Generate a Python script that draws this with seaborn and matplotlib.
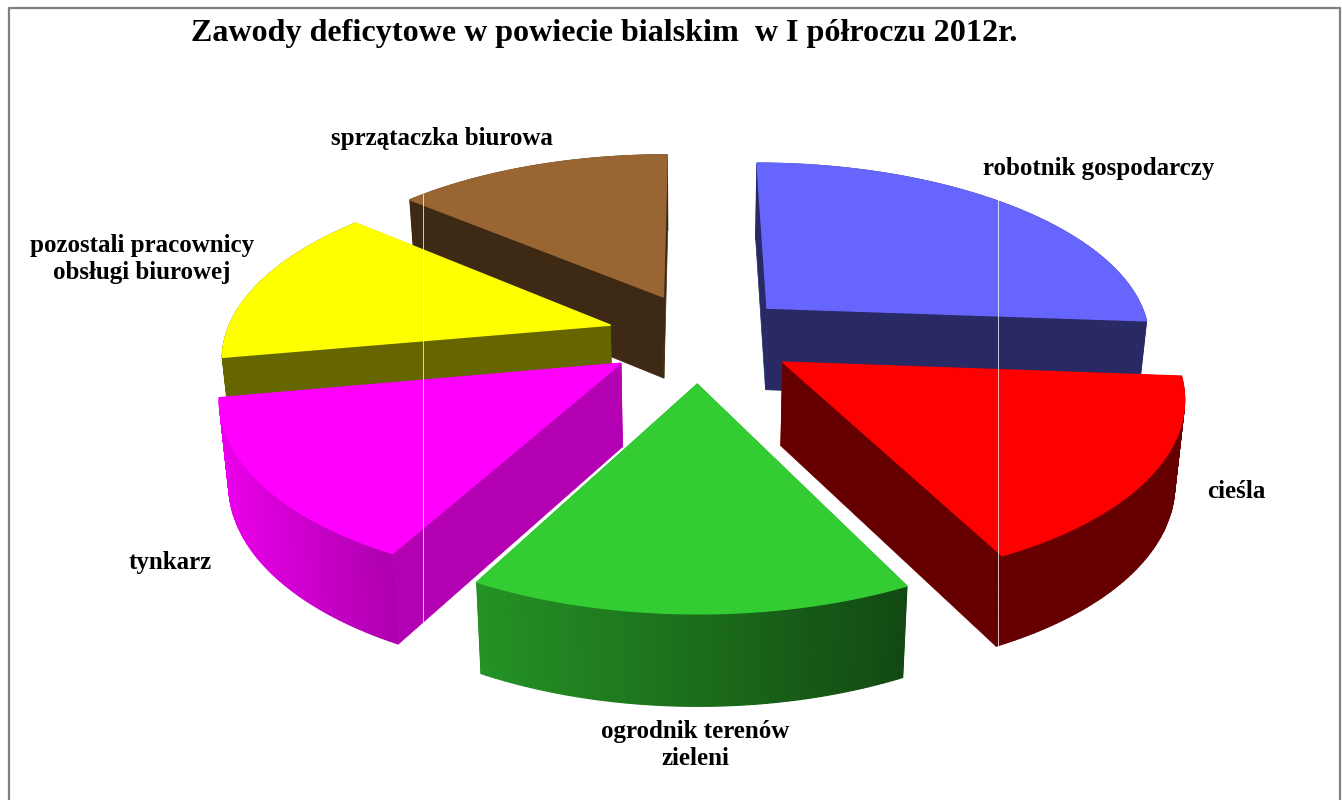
import numpy as np
import matplotlib
matplotlib.use("Agg")
import matplotlib.pyplot as plt
from matplotlib.colors import to_rgb
import seaborn as sns

title = "Zawody deficytowe w powiecie bialskim  w I półroczu 2012r."
categories = ["robotnik gospodarczy", "cieśla", "ogrodnik terenów\nzieleni", "tynkarz",
              "pozostali pracownicy\nobsługi biurowej", "sprzątaczka biurowa"]
values = [26.2, 16.5, 15.1, 14.3, 14.2, 13.7]
colors = ["#6666FF", "#FF0000", "#33CC33", "#FF00FF", "#FFFF00", "#996633"]

# label centres in pixels
label_pos = [(1099, 169), (1236, 491), (695, 745), (170, 563), (142, 259), (442, 139)]
# wall shading: outer wall left/right, radial wall
wall_left = [0.4, 0.4, 0.72, 0.92, 0.4, 0.4]
wall_right = [0.4, 0.4, 0.36, 0.68, 0.4, 0.4]
wall_radial = [0.4, 0.4, 0.4, 0.7, 0.4, 0.4]
draw_order = [5, 4, 0, 3, 1, 2]

# how far each slice is pulled out of the pie
explode_x = [0.2, 0.23, 0.013, -0.18, -0.214, -0.077]
explode_y = [0.213, -0.094, -0.211, -0.1, 0.113, 0.28]

# projection settings
cx, cy = 692, 345
a, b, k = 388, 179, 0.16
depth = 83
shrink = 0.02


def project(x, y, z=0.0):
    w = 1 + k * y
    return cx + a * x * (1 - shrink * z) / w, cy - b * y / w + depth * z / np.sqrt(w)


def shade(color, f):
    return tuple(c * f for c in to_rgb(color))


sns.set_theme(style="white")
plt.rcParams["font.family"] = ["Liberation Serif", "DejaVu Serif"]
palette = sns.color_palette(colors)

fig, ax = plt.subplots(figsize=(13.42, 8), dpi=100)
ax.set_position([0, 0, 1, 1])
ax.set_xlim(0, 1342)
ax.set_ylim(800, 0)
ax.axis("off")

# chart frame, open at the bottom
ax.plot([9, 9, 1340, 1340], [800, 8, 8, 800], color="#808080", lw=1.6)

edges = np.cumsum([0] + values) / np.sum(values) * 2 * np.pi

for i in draw_order:
    t = np.linspace(edges[i], edges[i + 1], 80)
    ox, oy = explode_x[i], explode_y[i]
    rx, ry = ox + np.sin(t), oy + np.cos(t)

    ax_, ay_ = project(ox, oy)
    px, py = project(rx, ry)
    bx, by = project(rx, ry, 1)
    apex_bx, apex_by = project(ox, oy, 1)
    mx, my = px[40], py[40]

    # split the two flat faces into hidden and visible
    faces = []
    for j in (0, -1):
        dx, dy = px[j] - ax_, py[j] - ay_
        front = np.sign(dx) != np.sign(dx * (my - ay_) - dy * (mx - ax_))
        faces.append((front, [ax_, px[j], bx[j], apex_bx], [ay_, py[j], by[j], apex_by]))

    rad_col = shade(palette[i], wall_radial[i])
    for front, fx, fy in faces:
        if not front:
            ax.fill(fx, fy, color=rad_col, lw=0.5)

    # outer wall, shaded strip by strip
    x_lo, x_hi = px.min(), px.max()
    for j in range(len(t) - 1):
        s = (px[j] - x_lo) / (x_hi - x_lo)
        f = wall_left[i] + (wall_right[i] - wall_left[i]) * s
        ax.fill([px[j], px[j + 1], bx[j + 1], bx[j]], [py[j], py[j + 1], by[j + 1], by[j]],
                color=shade(palette[i], f), lw=0.9)

    for front, fx, fy in faces:
        if front:
            ax.fill(fx, fy, color=rad_col, lw=0.5)

    ax.fill(np.r_[ax_, px], np.r_[ay_, py], color=palette[i], lw=1.0)

# thin seams that run through the pie
ax.plot([423, 423], [194, 622], color="white", lw=0.7, alpha=0.75)
ax.plot([998, 998], [198, 645], color="white", lw=0.7, alpha=0.75)

ax.text(604, 34, title, ha="center", va="center", fontsize=23.1, fontweight="bold", color="black")
for name, (lx, ly) in zip(categories, label_pos):
    ax.text(lx, ly, name, ha="center", va="center", fontsize=18, fontweight="bold",
            color="black", linespacing=1.25)

fig.savefig("out.png", dpi=100)
